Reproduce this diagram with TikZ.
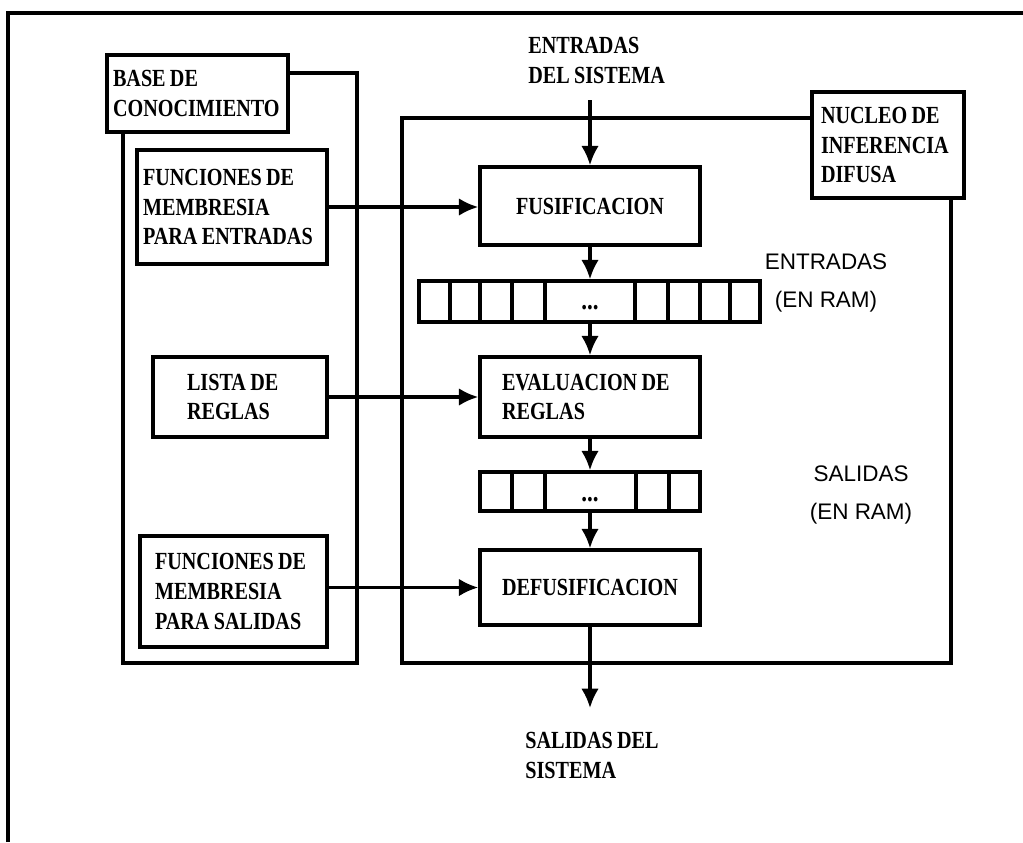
\documentclass[tikz,border=0pt]{standalone}
\usepackage{fontspec}
\setmainfont{Liberation Serif}[FakeStretch=0.82, WordSpace=0.85]
\newfontfamily\rotulofont{Liberation Sans}
\usetikzlibrary{arrows.meta}

\tikzset{
  caja/.style={draw, line width=2pt, rectangle, inner ysep=0pt, align=flush left,
    font=\fontsize{14}{17}\selectfont\bfseries},
  marco/.style={line width=2pt},
  flecha/.style={line width=1.8pt, -{Latex[length=11pt,width=10pt]}},
  rotulo/.style={align=flush left, inner sep=0pt, font=\fontsize{14}{17}\selectfont\bfseries},
  ram/.style={align=center, inner sep=0pt, font=\rotulofont\fontsize{12.8}{22}\selectfont},
  puntos/.style={font=\fontsize{16}{16}\selectfont\bfseries},
}

\begin{document}
\begin{tikzpicture}[x=0.02cm, y=-0.02cm]
  \useasboundingbox (0,0) rectangle (1023,842);
  % borde de la hoja (solo arriba e izquierda)
  \draw[marco] (8,842) -- (8,13) -- (1023,13);

  % base de conocimiento
  \node[caja, text width=3.38cm, inner xsep=0.12cm, minimum height=1.54cm] (base) at (197.5,93.5) {BASE DE\\CONOCIMIENTO};
  \node[caja, text width=3.56cm, inner xsep=0.12cm, minimum height=2.28cm] (funcEnt) at (232,207) {FUNCIONES DE\\MEMBRESIA\\PARA ENTRADAS};
  \node[caja, text width=2.12cm, inner xsep=0.68cm, minimum height=1.6cm] (lista) at (240,397) {LISTA DE\\REGLAS};
  \node[caja, text width=3.14cm, inner xsep=0.3cm, minimum height=2.22cm] (funcSal) at (233.5,591.5) {FUNCIONES DE\\MEMBRESIA\\PARA SALIDAS};
  \draw[marco] (base.east |- 0,73) -- (357,73) -- (357,663) -- (123,663) -- (123,0 |- base.south);

  % nucleo de inferencia
  \node[caja, text width=2.68cm, inner xsep=0.18cm, minimum height=2.12cm] (nucleo) at (888,145) {NUCLEO DE\\INFERENCIA\\DIFUSA};
  \node[caja, minimum width=4.4cm, minimum height=1.56cm] (fusif) at (590,206) {FUSIFICACION};
  \node[caja, text width=3.52cm, inner xsep=0.44cm, minimum height=1.6cm] (evalua) at (590,397) {EVALUACION DE\\REGLAS};
  \node[caja, minimum width=4.4cm, minimum height=1.5cm] (defus) at (590,587.5) {DEFUSIFICACION};
  \draw[marco] (nucleo.west |- 0,118) -- (402,118) -- (402,663) -- (951,663) -- (951,0 |- nucleo.south);

  % memorias en RAM
  \node[caja, minimum width=6.82cm, minimum height=0.82cm] (ramEnt) at (589.5,301.5) {};
  \foreach \x in {450,480,512,545,635,668,700,730}
    \draw[marco] (\x,0 |- ramEnt.north) -- (\x,0 |- ramEnt.south);
  \node[puntos] (ptsEnt) at (590,308) {...};
  \node[caja, minimum width=4.4cm, minimum height=0.78cm] (ramSal) at (590,491.5) {};
  \foreach \x in {512,545,636,669}
    \draw[marco] (\x,0 |- ramSal.north) -- (\x,0 |- ramSal.south);
  \node[puntos] (ptsSal) at (590,500) {...};

  % rotulos
  \node[rotulo, anchor=north west] (entSis) at (528,37) {ENTRADAS\\DEL SISTEMA};
  \node[rotulo, anchor=north west] (salSis) at (525,732) {SALIDAS DEL\\SISTEMA};
  \node[ram, anchor=north] (etqEnt) at (826,253) {ENTRADAS\\(EN RAM)};
  \node[ram, anchor=north] (etqSal) at (861,465) {SALIDAS\\(EN RAM)};
  \coordinate (inicio) at (590,100);
  \coordinate (fin) at (590,708);

  % flechas
  \draw[flecha] (inicio) -- (fusif.north);
  \draw[flecha] (fusif.south) -- (fusif.south |- ramEnt.north);
  \draw[flecha] (ramEnt.south -| evalua) -- (evalua.north);
  \draw[flecha] (evalua) -- (ramSal);
  \draw[flecha] (ramSal) -- (defus);
  \draw[flecha] (defus) -- (fin);
  \draw[flecha] (funcEnt.east) -- (funcEnt.east -| fusif.west);
  \draw[flecha] (lista) -- (evalua);
  \draw[flecha] (funcSal.east |- defus) -- (defus.west);
\end{tikzpicture}
\end{document}
